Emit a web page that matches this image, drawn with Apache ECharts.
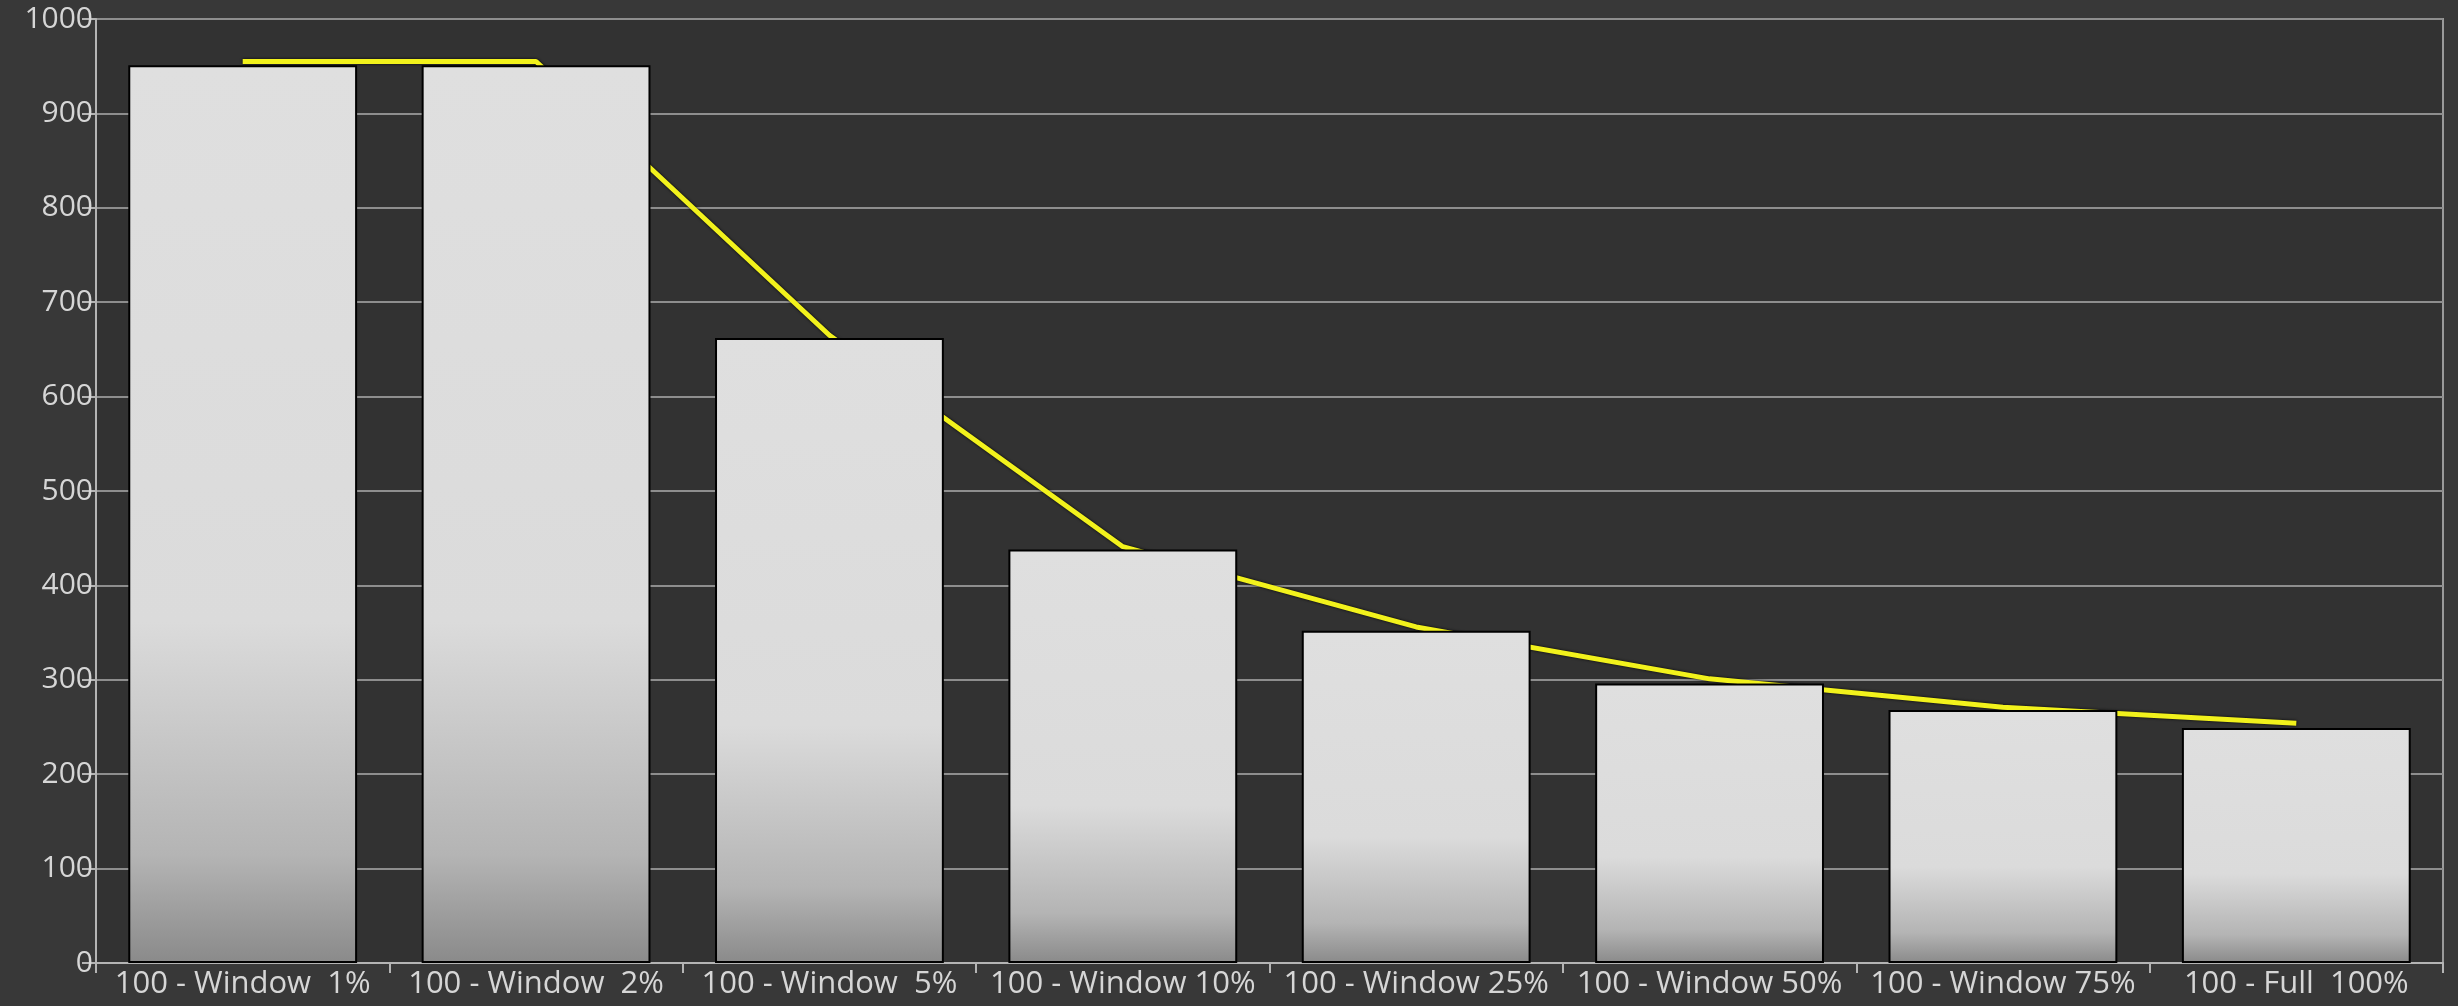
<!DOCTYPE html>
<html>
<head>
<meta charset="utf-8">
<style>
  html, body { margin: 0; padding: 0; background: #383838; }
  #chart { width: 2458px; height: 1006px; }
</style>
<script src="https://cdn.jsdelivr.net/npm/echarts@6/dist/echarts.min.js"></script>
</head>
<body>
<div id="chart"></div>
<script>
const categories = [
  '100 - Window  1%', '100 - Window  2%', '100 - Window  5%', '100 - Window 10%',
  '100 - Window 25%', '100 - Window 50%', '100 - Window 75%', '100 - Full  100%'
];
const barValues = [951, 951, 662, 438, 352, 296, 268, 249];
const lineValues = [955, 955, 665, 441, 356, 301, 271, 254];
const yTicks = { min: 0, max: 1000, interval: 100 };

const chart = echarts.init(document.getElementById('chart'), null, { renderer: 'canvas' });

chart.setOption({
  backgroundColor: '#383838',
  animation: false,
  grid: {
    left: 96, right: 15, top: 19, bottom: 43,
    show: true, backgroundColor: '#323232', borderColor: '#9a9a9a', borderWidth: 2
  },
  xAxis: {
    type: 'category',
    data: categories,
    axisLine: { lineStyle: { color: '#b4b4b4', width: 2 } },
    axisTick: { show: true, length: 10, alignWithLabel: false, lineStyle: { color: '#b4b4b4', width: 2 } },
    axisLabel: { margin: 6, interval: 0, color: '#d6d6d6', fontFamily: 'Open Sans', fontSize: 31 }
  },
  yAxis: {
    type: 'value',
    min: yTicks.min, max: yTicks.max, interval: yTicks.interval,
    axisLine: { show: true, lineStyle: { color: '#b4b4b4', width: 2 } },
    axisTick: { show: true, length: 14, lineStyle: { color: '#b4b4b4', width: 2 } },
    axisLabel: { margin: 3, color: '#d6d6d6', fontFamily: 'Open Sans', fontSize: 30,
                 formatter: function (v) { return String(v); } },
    splitLine: { show: true, lineStyle: { color: '#8e8e8e', width: 2 } }
  },
  series: [
    {
      type: 'line',
      data: lineValues,
      z: 1,
      smooth: false,
      showSymbol: false,
      lineStyle: { color: '#f2f21c', width: 5, shadowColor: 'rgba(0,0,0,0.9)', shadowBlur: 3 }
    },
    {
      type: 'bar',
      data: barValues,
      z: 2,
      barWidth: '78%',
      itemStyle: {
        borderColor: '#000000',
        borderWidth: 2,
        color: {
          type: 'linear', x: 0, y: 0, x2: 0, y2: 1,
          colorStops: [
            { offset: 0, color: '#dfdfdf' },
            { offset: 0.62, color: '#dbdbdb' },
            { offset: 0.88, color: '#b4b4b4' },
            { offset: 1, color: '#8a8a8a' }
          ]
        }
      }
    }
  ]
});
</script>
</body>
</html>
